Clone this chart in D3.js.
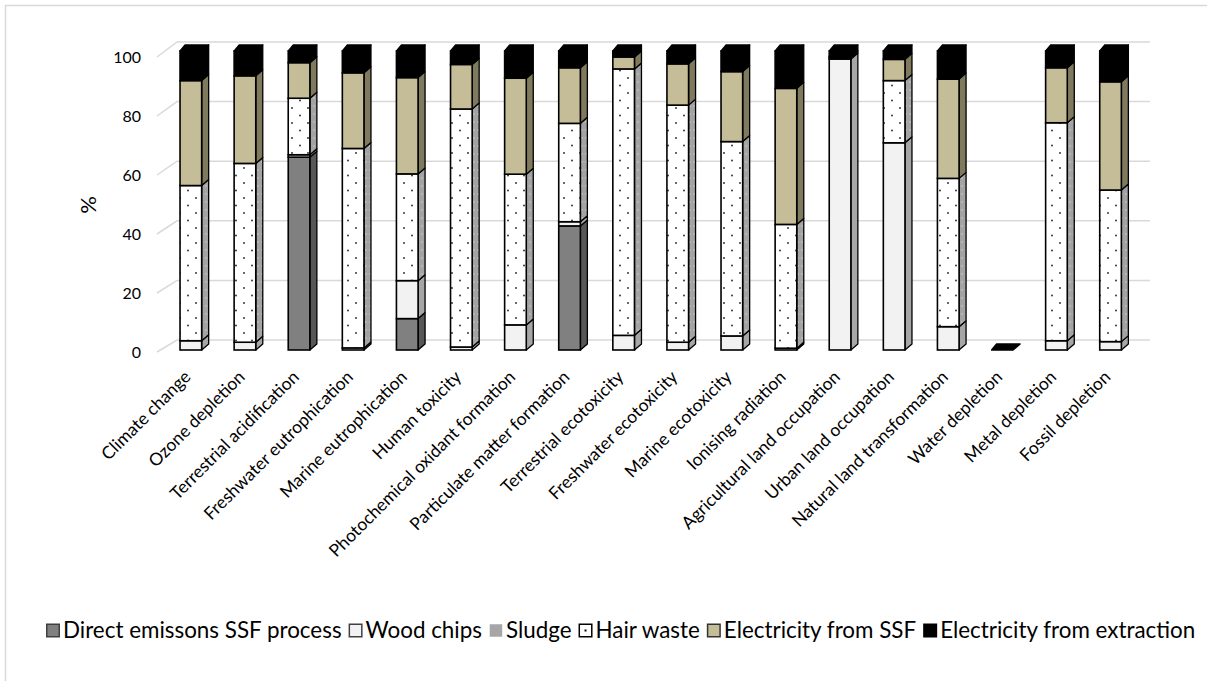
<!DOCTYPE html>
<html>
<head>
<meta charset="utf-8">
<script src="https://cdn.jsdelivr.net/npm/d3@7"></script>
<style>
  body { margin: 0; background: #fff; }
  text { font-family: Lato, "Open Sans", sans-serif; fill: #000; }
</style>
</head>
<body>
<div id="chart"></div>
<script>
// data (%)
var categories = ["Climate change", "Ozone depletion", "Terrestrial acidification",
  "Freshwater eutrophication", "Marine eutrophication", "Human toxicity",
  "Photochemical oxidant formation", "Particulate matter formation",
  "Terrestrial ecotoxicity", "Freshwater ecotoxicity", "Marine ecotoxicity",
  "Ionising radiation", "Agricultural land occupation", "Urban land occupation",
  "Natural land transformation", "Water depletion", "Metal depletion", "Fossil depletion"];

var seriesNames = ["Direct emissons SSF process", "Wood chips", "Sludge", "Hair waste",
  "Electricity from SSF", "Electricity from extraction"];

var directSSF  = [0, 0, 64.5, 0, 10.5, 0, 0, 41.5, 0, 0, 0, 0, 0, 0, 0, 0, 0, 0];
var woodChips  = [3.1, 2.6, 0.8, 0.7, 12.7, 1.0, 8.4, 1.4, 4.9, 2.6, 4.7, 0.6, 97.3, 69.3, 7.8, 0, 3.1, 2.8];
var sludge     = [0, 0, 0, 0, 0, 0, 0, 0, 0, 0, 0, 0, 0, 0, 0, 0, 0, 0];
var hairWaste  = [51.9, 59.8, 18.9, 66.7, 35.7, 79.6, 50.4, 32.9, 89.1, 79.3, 65.0, 41.4, 0.4, 20.8, 49.6, 0, 72.9, 50.7];
var elecSSF    = [35.1, 29.3, 11.9, 25.3, 32.2, 14.9, 32.1, 18.6, 4.0, 13.8, 23.4, 45.5, 0.5, 7.1, 33.2, 0, 18.4, 36.2];
var elecExtr   = [9.9, 8.3, 3.9, 7.3, 8.9, 4.5, 9.1, 5.6, 2.0, 4.3, 6.9, 12.5, 1.8, 2.8, 9.4, 0, 5.6, 10.3];

var yTicks = [0, 20, 40, 60, 80, 100];

var W = 1207, H = 681;
var seriesData = [directSSF, woodChips, sludge, hairWaste, elecSSF, elecExtr];

// face colours: front, side
var faces = [
  { front: "#808080", side: "#575757" },
  { front: "#f2f2f2", side: "#a6a6a6" },
  { front: "#a6a6a6", side: "#6f6f6f" },
  { front: "url(#dots)", side: "url(#dotsSide)" },
  { front: "#c4bd97", side: "#7f7a5e" },
  { front: "#000000", side: "#000000" }
];

var svg = d3.select("#chart").append("svg")
  .attr("width", W).attr("height", H);

var defs = svg.append("defs");
var p1 = defs.append("pattern").attr("id", "dots").attr("patternUnits", "userSpaceOnUse")
  .attr("width", 16).attr("height", 15);
p1.append("rect").attr("width", 16).attr("height", 15).attr("fill", "#fff");
p1.append("circle").attr("cx", 4).attr("cy", 3).attr("r", 0.9).attr("fill", "#222");
p1.append("circle").attr("cx", 12).attr("cy", 10.5).attr("r", 0.9).attr("fill", "#222");
var p2 = defs.append("pattern").attr("id", "dotsSide").attr("patternUnits", "userSpaceOnUse")
  .attr("width", 4).attr("height", 8);
p2.append("rect").attr("width", 4).attr("height", 8).attr("fill", "#a3a3a3");
p2.append("circle").attr("cx", 2).attr("cy", 2).attr("r", 0.7).attr("fill", "#d8d8d8");

// chart frame
svg.append("rect").attr("x", 5.5).attr("y", 5.5).attr("width", W + 10).attr("height", H + 10)
  .attr("fill", "none").attr("stroke", "#d9d9d9").attr("stroke-width", 1.5);

// scales
var x = d3.scaleBand().domain(categories).range([163.8, 1137.6])
  .paddingInner(0.6).paddingOuter(0.3);
var yBar = d3.scaleLinear().domain([0, 100]).range([350, 51]);
var yBack = d3.scaleLinear().domain([0, 100]).range([340, 42]);
var yFront = d3.scaleLinear().domain([0, 100]).range([352, 57]);
var dx = 7, dy = 6;

// gridlines (back wall + floor edge)
var grid = svg.append("g");
grid.selectAll("polyline").data(yTicks).enter().append("polyline")
  .attr("points", function(d) {
    return [157, yFront(d), 177, yBack(d), 1150, yBack(d)].join(",");
  })
  .attr("fill", "none").attr("stroke", "#d9d9d9").attr("stroke-width", 1.5);

grid.selectAll("text").data(yTicks).enter().append("text")
  .attr("x", 141).attr("y", function(d) { return yFront(d); })
  .attr("dy", "0.35em").attr("text-anchor", "end")
  .style("font-size", "16px").text(function(d) { return d; });

svg.append("text")
  .attr("transform", "translate(96,205) rotate(-90)")
  .attr("text-anchor", "middle").style("font-size", "22px").text("%");

// stacked 3D bars
var rows = categories.map(function(c, i) {
  var o = { cat: c };
  seriesNames.forEach(function(s, k) { o[s] = seriesData[k][i]; });
  return o;
});
var stacked = d3.stack().keys(seriesNames)(rows);
var bw = x.bandwidth();

categories.forEach(function(c, i) {
  var g = svg.append("g");
  var x0 = x(c);
  var topVal = 0;
  stacked.forEach(function(layer, k) {
    var v0 = layer[i][0], v1 = layer[i][1];
    if (v1 - v0 <= 0) return;
    topVal = v1;
    var ya = yBar(v0), yb = yBar(v1);
    g.append("polygon")
      .attr("points", [[x0 + bw, ya], [x0 + bw + dx, ya - dy], [x0 + bw + dx, yb - dy], [x0 + bw, yb]].join(" "))
      .attr("fill", faces[k].side).attr("stroke", "#000").attr("stroke-width", 1.3)
      .attr("stroke-linejoin", "round");
    g.append("rect")
      .attr("x", x0).attr("y", yb).attr("width", bw).attr("height", ya - yb)
      .attr("fill", faces[k].front).attr("stroke", "#000").attr("stroke-width", 1.6);
  });
  var yt = yBar(topVal);
  g.append("polygon")
    .attr("points", [[x0, yt], [x0 + 5, yt - dy], [x0 + bw + dx, yt - dy], [x0 + bw, yt]].join(" "))
    .attr("fill", "#000").attr("stroke", "#000").attr("stroke-width", 1.3)
    .attr("stroke-linejoin", "round");
});

// category labels
svg.append("g").selectAll("text").data(categories).enter().append("text")
  .attr("transform", function(d) {
    return "translate(" + (x(d) + bw / 2 + 1) + ",378) rotate(-45)";
  })
  .attr("text-anchor", "end").style("font-size", "17.5px")
  .text(function(d) { return d; });

// legend
var legendIcons = [
  { fill: "#808080", stroke: "#404040" },
  { fill: "#f2f2f2", stroke: "#404040" },
  { fill: "#a6a6a6", stroke: "none" },
  { fill: "#fff", stroke: "#000", dot: true },
  { fill: "#c4bd97", stroke: "#333" },
  { fill: "#000", stroke: "#000" }
];
var lg = svg.append("g");
var lx = 46;
seriesNames.forEach(function(s, k) {
  var ic = legendIcons[k];
  lg.append("rect").attr("x", lx + 0.75).attr("y", 624.25).attr("width", 12.5).attr("height", 12.5)
    .attr("fill", ic.fill).attr("stroke", ic.stroke).attr("stroke-width", 1.5);
  if (ic.dot) lg.append("rect").attr("x", lx + 6).attr("y", 629.5).attr("width", 2).attr("height", 2).attr("fill", "#000");
  var t = lg.append("text").attr("x", lx + 17).attr("y", 630).attr("dy", "0.35em")
    .style("font-size", "22.4px").text(s);
  lx += 17 + t.node().getComputedTextLength() + 7;
});
</script>
</body>
</html>
